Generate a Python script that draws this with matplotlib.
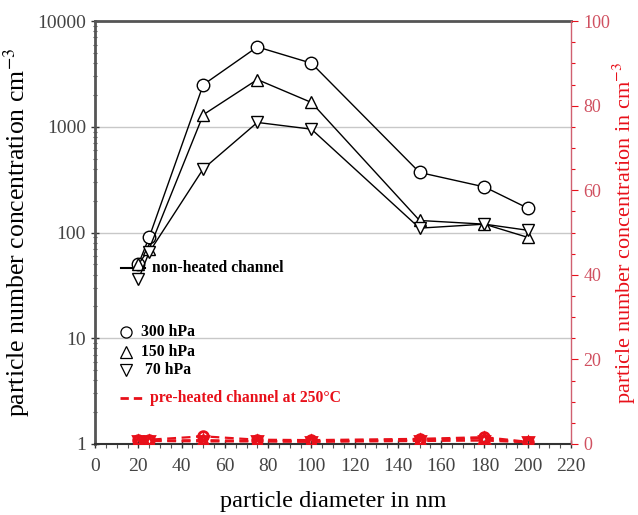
import numpy as np
import matplotlib
matplotlib.use("Agg")
import matplotlib.pyplot as plt
from matplotlib.ticker import MultipleLocator, LogLocator, NullFormatter, FixedFormatter, FixedLocator

plt.rcParams["font.family"] = ["Liberation Serif", "DejaVu Serif"]
plt.rcParams["mathtext.fontset"] = "stix"

# ── Data ──────────────────────────────────────────────────────────────────────
diameter = [20, 25, 50, 75, 100, 150, 180, 200]

# non-heated channel (left axis, log)
nh_300 = [50, 90, 2500, 5700, 4000, 370, 270, 170]
nh_150 = [50, 70, 1300, 2800, 1700, 130, 120, 90]
nh_70  = [36, 65, 400, 1100, 950, 110, 120, 105]

# pre-heated channel at 250°C (right axis, linear)
ph_300 = [1.0, 1.0, 1.8, 1.0, 0.9, 1.2, 1.6, 0.5]
ph_150 = [0.8, 0.8, 0.9, 0.7, 0.6, 1.0, 1.3, 0.4]
ph_70  = [0.7, 0.7, 0.6, 0.6, 0.5, 0.7, 0.8, 0.4]

RED = "#e8101a"
GRID = "#c8c8c8"

fig = plt.figure(figsize=(6.38, 5.15), dpi=100)
ax = fig.add_axes([0.149, 0.138, 0.746, 0.821])

mk = dict(ms=9, mfc="white", mew=1.0, lw=1.0)
ax.plot(diameter, nh_300, "-o", color="black", zorder=3, **mk)
ax.plot(diameter, nh_150, "-^", color="black", zorder=3, **mk)
ax.plot(diameter, nh_70,  "-v", color="black", zorder=3, **mk)

ax.set_yscale("log")
ax.set_ylim(1, 10000)
ax.set_xlim(0, 220)
ax.xaxis.set_major_locator(MultipleLocator(20))
ax.xaxis.set_minor_locator(MultipleLocator(5))
ax.yaxis.set_major_locator(FixedLocator([1, 10, 100, 1000, 10000]))
ax.yaxis.set_major_formatter(FixedFormatter(["1", "10", "100", "1000", "10000"]))
ax.yaxis.set_minor_locator(LogLocator(base=10, subs=np.arange(2, 10)))
ax.yaxis.set_minor_formatter(NullFormatter())

for v in [10, 100, 1000]:
    ax.axhline(v, color=GRID, lw=1.0, zorder=0)

ax.tick_params(axis="both", which="major", labelsize=14, colors="#333333",
               labelcolor="#444444", length=6, width=1.0, direction="inout")
ax.tick_params(axis="both", which="minor", length=3, width=0.8, colors="#555555",
               direction="inout")
ax.tick_params(axis="x", which="minor", direction="out", length=3)
ax.tick_params(axis="x", which="major", pad=7)

for side in ["left", "top"]:
    ax.spines[side].set_color("#555555")
    ax.spines[side].set_linewidth(2.0)
ax.spines["bottom"].set_color("#333333")
ax.spines["bottom"].set_linewidth(1.5)
ax.spines["right"].set_visible(False)

ax.set_xlabel("particle diameter in nm", fontsize=17.5, labelpad=12)
ax.set_ylabel("particle number concentration cm$^{-3}$", fontsize=18.5, labelpad=4)

# right axis
ax2 = ax.twinx()
mk2 = dict(ms=7, mfc="none", mew=2.0, lw=1.6)
ax2.plot(diameter, ph_300, "--o", color=RED, dashes=(4, 2.5), **mk2)
ax2.plot(diameter, ph_150, "--^", color=RED, dashes=(4, 2.5), **mk2)
ax2.plot(diameter, ph_70,  "--v", color=RED, dashes=(4, 2.5), **mk2)
ax2.set_ylim(0, 100)
ax2.yaxis.set_major_locator(MultipleLocator(20))
ax2.yaxis.set_minor_locator(MultipleLocator(5))
ax2.tick_params(axis="y", which="major", colors=RED, labelcolor="#d05060",
                labelsize=13, length=5, width=0.8, direction="out", pad=4)
ax2.tick_params(axis="y", which="minor", colors=RED, length=3, width=0.8,
                direction="out")
ax2.spines["right"].set_color("#d06070")
ax2.spines["right"].set_linewidth(1.0)
for side in ["left", "top", "bottom"]:
    ax2.spines[side].set_visible(False)
ax2.set_ylabel("particle number concentration in cm$^{-3}$", fontsize=16,
               color=RED, labelpad=0)

# legend, drawn by hand
tr = ax.transAxes
ax.plot([0.055, 0.105], [0.416, 0.416], color="black", lw=1.5, transform=tr)
ax.text(0.12, 0.416, "non-heated channel", transform=tr, fontsize=11.3,
        fontweight="bold", va="center")
ax.plot([0.065], [0.265], "o", transform=tr, ms=8, mfc="white", mec="black", mew=0.9)
ax.plot([0.065], [0.2175], "^", transform=tr, ms=8, mfc="white", mec="black", mew=0.9)
ax.plot([0.065], [0.175], "v", transform=tr, ms=8, mfc="white", mec="black", mew=0.9)
ax.text(0.097, 0.265, "300 hPa", transform=tr, fontsize=11.3, fontweight="bold", va="center")
ax.text(0.097, 0.2175, "150 hPa", transform=tr, fontsize=11.3, fontweight="bold", va="center")
ax.text(0.105, 0.175, "70 hPa", transform=tr, fontsize=11.3, fontweight="bold", va="center")
ax.plot([0.053, 0.105], [0.109, 0.109], color=RED, lw=2.0, dashes=(3, 1.8), transform=tr)
ax.text(0.116, 0.109, "pre-heated channel at 250°C", transform=tr, fontsize=11.3,
        fontweight="bold", va="center", color=RED)

fig.savefig("out.png", dpi=100)
